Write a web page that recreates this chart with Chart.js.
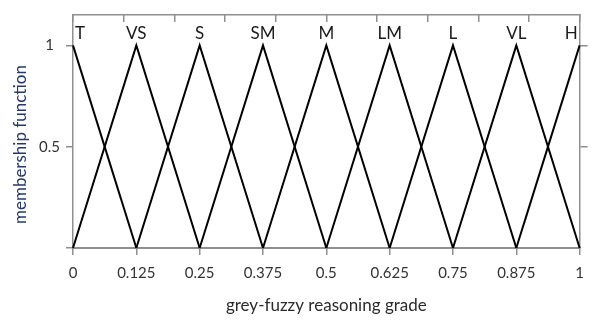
<!DOCTYPE html>
<html>
<head>
<meta charset="utf-8">
<script src="https://cdn.jsdelivr.net/npm/chart.js@4"></script>
<style>
  html, body { margin: 0; padding: 0; background: #fff; }
  #wrap { width: 593px; height: 322px; }
</style>
</head>
<body>
<div id="wrap"><canvas id="chart" width="593" height="322"></canvas></div>
<script>
// términos difusos y grados
const terms = ['T', 'VS', 'S', 'SM', 'M', 'LM', 'L', 'VL', 'H'];
const grades = [0, 0.125, 0.25, 0.375, 0.5, 0.625, 0.75, 0.875, 1];
// pertenencia: pie izquierdo, pico, pie derecho
const triangle = [0, 1, 0];
const yTicks = [0, 0.5, 1];
const yTickLabels = ['', '0.5', '1'];
const topTicks = [0, 0.1, 0.2, 0.3, 0.4, 0.5, 0.6, 0.7, 0.8, 0.9, 1];

const gris = '#8f8f8f';
const fuente = 'Lato, "Open Sans", sans-serif';

// cada término es un triángulo sobre los grados vecinos
const datasets = terms.map((t, i) => {
  const pts = [];
  for (let k = -1; k <= 1; k++) {
    const g = grades[i + k];
    if (g === undefined) continue;
    pts.push({ x: g, y: triangle[k + 1] });
  }
  return {
    label: t,
    data: pts,
    borderColor: '#000',
    borderWidth: 2,
    pointRadius: 0,
    tension: 0,
    fill: false,
    clip: 6
  };
});

// etiquetas de los términos encima de cada pico
const etiquetas = {
  id: 'etiquetas',
  afterDatasetsDraw(chart) {
    const { ctx, scales } = chart;
    const yPix = scales.y.getPixelForValue(1) - 3;
    ctx.save();
    ctx.font = '17px ' + fuente;
    ctx.fillStyle = '#1a1a1a';
    ctx.textBaseline = 'bottom';
    terms.forEach((t, i) => {
      let x = scales.x.getPixelForValue(grades[i]);
      ctx.textAlign = 'center';
      if (i === 0) { ctx.textAlign = 'left'; x += 2; }
      if (i === terms.length - 1) { ctx.textAlign = 'right'; x -= 2; }
      ctx.fillText(t, x, yPix);
    });
    ctx.restore();
  }
};

new Chart(document.getElementById('chart'), {
  type: 'line',
  data: { datasets },
  plugins: [etiquetas],
  options: {
    responsive: false,
    animation: false,
    layout: { padding: 0 },
    plugins: { legend: { display: false }, tooltip: { enabled: false } },
    scales: {
      x: {
        type: 'linear',
        position: 'bottom',
        min: 0,
        max: 1,
        afterBuildTicks: s => { s.ticks = grades.map(v => ({ value: v })); },
        afterFit: s => { s.height = 74; },
        ticks: {
          callback: v => String(v),
          font: { family: fuente, size: 15 },
          color: '#333',
          padding: 9,
          maxRotation: 0,
          autoSkip: false
        },
        grid: { drawOnChartArea: false, tickLength: 7, color: gris, lineWidth: 1.5 },
        border: { color: gris, width: 2 },
        title: {
          display: true,
          text: 'grey-fuzzy reasoning grade',
          font: { family: fuente, size: 17 },
          color: '#2b2b2b',
          padding: { top: 0, bottom: 6 }
        }
      },
      x2: {
        type: 'linear',
        position: 'top',
        min: 0,
        max: 1,
        afterBuildTicks: s => { s.ticks = topTicks.map(v => ({ value: v })); },
        afterFit: s => { s.height = 11; },
        ticks: { display: false },
        grid: { drawOnChartArea: false, tickLength: -7, color: gris, lineWidth: 1.5 },
        border: { color: gris, width: 1.5 }
      },
      y: {
        type: 'linear',
        position: 'left',
        min: 0,
        max: 1.15,
        afterBuildTicks: s => { s.ticks = yTicks.map(v => ({ value: v })); },
        afterFit: s => { s.width = 73; },
        ticks: {
          callback: (v, i) => yTickLabels[i],
          font: { family: fuente, size: 15 },
          color: '#333',
          padding: 6,
          crossAlign: 'center'
        },
        grid: { drawOnChartArea: false, tickLength: 7, color: gris, lineWidth: 1.5 },
        border: { color: gris, width: 1.5 },
        title: {
          display: true,
          text: 'membership function      ',
          font: { family: fuente, size: 17 },
          color: '#23396b',
          padding: { top: 10, bottom: 0 }
        }
      },
      y2: {
        type: 'linear',
        position: 'right',
        min: 0,
        max: 1.15,
        afterBuildTicks: s => { s.ticks = [0.5, 1].map(v => ({ value: v })); },
        afterFit: s => { s.width = 11; },
        ticks: { display: false },
        grid: { drawOnChartArea: false, tickLength: 8, color: gris, lineWidth: 1.5 },
        border: { color: gris, width: 1.5 }
      }
    }
  }
});
</script>
</body>
</html>
